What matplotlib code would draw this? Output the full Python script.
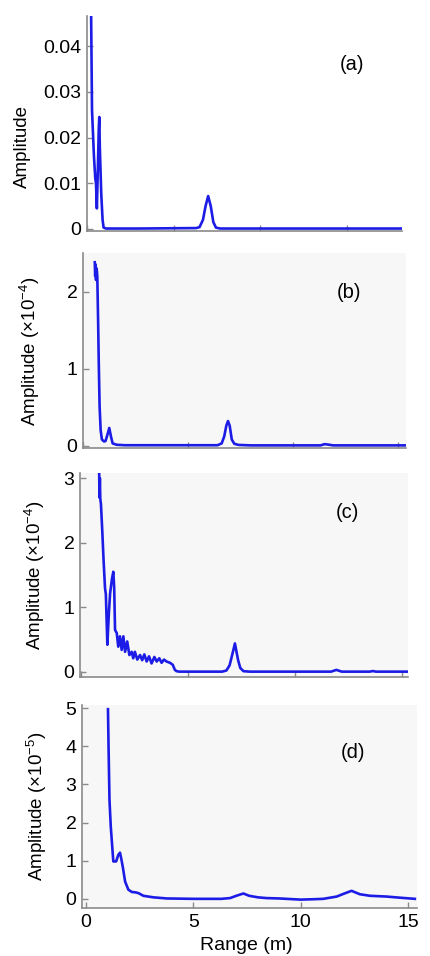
import matplotlib
matplotlib.use("Agg")
import matplotlib.pyplot as plt

plt.rcParams['font.family'] = ['Liberation Sans', 'DejaVu Sans']
plt.rcParams['mathtext.default'] = 'regular'

# ---- data ----
# (a)
xa = [0.23, 0.24, 0.29, 0.40, 0.48, 0.52, 0.57, 0.62, 0.68, 0.71, 0.74, 0.78, 0.82, 0.90, 0.96,
      1.1, 3.0, 6.3, 6.5, 6.7, 6.85, 7.0, 7.15, 7.3, 7.45, 7.7, 12.0, 18.2]
ya = [0.060, 0.046, 0.026, 0.016, 0.011, 0.010, 0.0045, 0.012, 0.022, 0.0245, 0.018, 0.013, 0.008, 0.002, 0.0003,
      0.0001, 0.0001, 0.0002, 0.0004, 0.002, 0.005, 0.0072, 0.005, 0.0015, 0.0003, 0.0001, 0.0001, 0.0001]

# (b)  (x1e-4)
xb = [0.56, 0.58, 0.60, 0.62, 0.65, 0.68, 0.72, 0.75, 0.79, 0.84, 0.90, 1.0, 1.07, 1.15, 1.25, 1.33, 1.41,
      1.6, 2.0, 6.4, 6.6, 6.72, 6.82, 6.9, 6.98, 7.08, 7.2, 7.4, 8.0, 11.3, 11.5, 11.65, 11.9, 15.37]
yb = [2.38, 2.2, 2.35, 2.15, 2.3, 2.2, 1.6, 1.08, 0.51, 0.2, 0.08, 0.055, 0.06, 0.13, 0.23, 0.12, 0.03,
      0.012, 0.006, 0.006, 0.03, 0.12, 0.26, 0.32, 0.26, 0.08, 0.025, 0.01, 0.004, 0.004, 0.02, 0.015, 0.004, 0.004]

# (c)  (x1e-4)
xc = [0.84, 0.86, 0.88, 0.90, 0.93, 0.99, 1.05, 1.12, 1.16, 1.23, 1.30, 1.36, 1.45, 1.51, 1.55, 1.59,
      1.67, 1.74, 1.82, 1.90, 1.98, 2.06, 2.16, 2.26, 2.37, 2.44, 2.52, 2.63, 2.76, 2.86, 2.96, 3.07,
      3.18, 3.30, 3.43, 3.54, 3.66, 3.77, 3.88, 4.00, 4.16, 4.29, 4.39, 4.47, 4.6,
      6.6, 6.8, 6.95, 7.1, 7.2, 7.28, 7.35, 7.45, 7.6, 7.9,
      11.7, 11.95, 12.2, 13.5, 13.66, 13.8, 15.28]
yc = [3.3, 2.7, 3.0, 2.68, 2.6, 2.2, 1.75, 1.30, 1.20, 0.42, 0.9, 1.22, 1.45, 1.55, 1.3, 0.65,
      0.6, 0.39, 0.55, 0.34, 0.55, 0.31, 0.47, 0.26, 0.31, 0.21, 0.31, 0.19, 0.26, 0.18, 0.27, 0.16,
      0.24, 0.13, 0.23, 0.16, 0.21, 0.14, 0.19, 0.16, 0.14, 0.11, 0.03, 0.01, 0.003,
      0.003, 0.02, 0.1, 0.3, 0.44, 0.3, 0.18, 0.06, 0.01, 0.003,
      0.003, 0.03, 0.003, 0.003, 0.012, 0.003, 0.003]

# (d)  (x1e-5)
xd = [1.02, 1.05, 1.09, 1.15, 1.23, 1.27, 1.34, 1.40, 1.50, 1.58, 1.64, 1.71, 1.82, 1.97, 2.13, 2.30, 2.44,
      2.67, 3.13, 3.76, 5.0, 6.3, 6.71, 7.0, 7.33, 7.6, 8.0, 8.4, 9.0, 10.0, 10.6, 11.05, 11.68,
      11.99, 12.37, 12.76, 13.23, 14.0, 14.62, 15.32]
yd = [4.97, 3.9, 2.6, 1.9, 1.28, 0.98, 0.98, 0.98, 1.15, 1.21, 1.05, 0.84, 0.45, 0.24, 0.18, 0.17, 0.15,
      0.08, 0.04, 0.01, 0.0, 0.0, 0.02, 0.08, 0.14, 0.08, 0.04, 0.02, 0.01, -0.02, -0.01, 0.0, 0.06,
      0.13, 0.21, 0.12, 0.08, 0.06, 0.03, 0.0]

panels = [
    dict(x=xa, y=ya, xlim=(0.11, 18.2), ylim=(-0.00044, 0.0466),
         yticks=[0, 0.01, 0.02, 0.03, 0.04], yticklabels=['0', '0.01', '0.02', '0.03', '0.04'],
         ylabel='Amplitude', tag='(a)', face='white',
         rect=[87, 16, 402, 231], lab=(-0.178, 0.395), tagpos=(352, 65)),
    dict(x=xb, y=yb, xlim=(0.55, 15.37), ylim=(-0.03, 2.5),
         yticks=[0, 1, 2], yticklabels=['0', '1', '2'],
         ylabel='Amplitude (×10$^{-4}$)', tag='(b)', face='#f7f7f7',
         rect=[83, 253, 406, 448], lab=(-0.127, 0.495), tagpos=(349, 292)),
    dict(x=xc, y=yc, xlim=(-0.05, 15.3), ylim=(-0.08, 3.08),
         yticks=[0, 1, 2, 3], yticklabels=['0', '1', '2', '3'],
         ylabel='Amplitude (×10$^{-4}$)', tag='(c)', face='#f7f7f7',
         rect=[80, 473, 408, 677], lab=(-0.101, 0.497), tagpos=(347, 513)),
    dict(x=xd, y=yd, xlim=(-0.19, 15.42), ylim=(-0.24, 5.08),
         yticks=[0, 1, 2, 3, 4, 5], yticklabels=['0', '1', '2', '3', '4', '5'],
         ylabel='Amplitude (×10$^{-5}$)', tag='(d)', face='#f7f7f7',
         rect=[82, 705, 417, 908], lab=(-0.098, 0.5), tagpos=(353, 752)),
]
xticks = [0, 5, 10, 15]

W, H = 430, 956
fig = plt.figure(figsize=(W / 100, H / 100), dpi=100)
line_color = '#1c1ce6'
spine_color = '#8a8a8a'

for i, p in enumerate(panels):
    l, t, r, b = p['rect']
    ax = fig.add_axes([l / W, 1 - b / H, (r - l) / W, (b - t) / H])
    ax.set_facecolor(p['face'])
    ax.plot(p['x'], p['y'], color=line_color, lw=1.9, solid_joinstyle='round')
    ax.set_xlim(*p['xlim'])
    ax.set_ylim(*p['ylim'])
    ax.set_yticks(p['yticks'])
    ax.set_yticklabels(p['yticklabels'])
    ax.set_xticks(xticks)
    if i < 3:
        ax.set_xticklabels([])
    else:
        ax.set_xticklabels([str(v) for v in xticks])
    for s in ['top', 'right']:
        ax.spines[s].set_visible(False)
    for s in ['left', 'bottom']:
        ax.spines[s].set_color(spine_color)
        ax.spines[s].set_linewidth(1.2)
    ax.tick_params(direction='in', length=4, width=1, color=spine_color,
                   labelsize=14, pad=4, labelcolor='black')
    ax.set_ylabel(p['ylabel'], fontsize=13.5)
    ax.yaxis.set_label_coords(*p['lab'])
    fig.text(p['tagpos'][0] / W, 1 - p['tagpos'][1] / H, p['tag'],
             fontsize=14.5, ha='center', va='center')

fig.text(246 / W, 1 - 946 / H, 'Range (m)', fontsize=14, ha='center', va='center')

fig.savefig('out.png', dpi=100)
